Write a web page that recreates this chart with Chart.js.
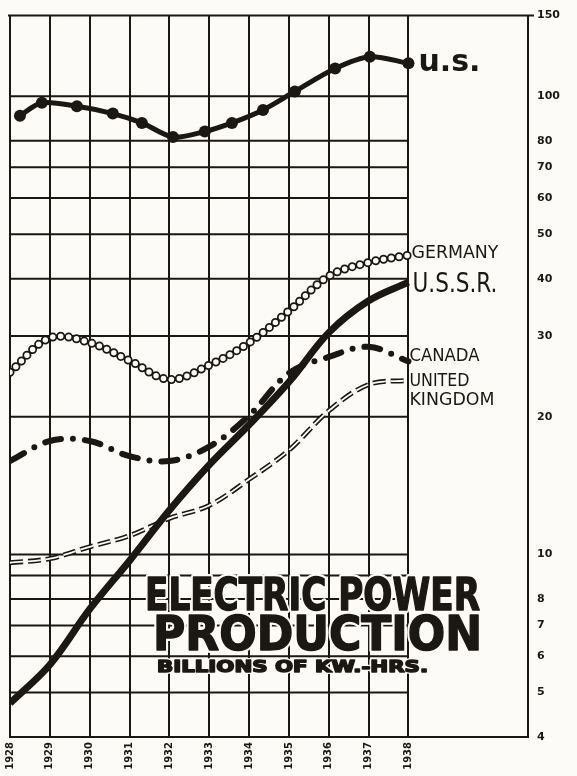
<!DOCTYPE html>
<html>
<head>
<meta charset="utf-8">
<title>Electric Power Production</title>
<script src="https://cdn.jsdelivr.net/npm/chart.js@4.4.1/dist/chart.umd.min.js"></script>
<style>
  html, body { margin: 0; padding: 0; background: #fcfbf7; }
  #wrap { width: 577px; height: 776px; position: relative; }
</style>
</head>
<body>
<div id="wrap"><canvas id="chart"></canvas></div>
<script>
(() => {
  "use strict";

  // x axis: one grid line per year
  const years = [1928, 1929, 1930, 1931, 1932, 1933, 1934, 1935, 1936, 1937, 1938];

  // U.S. is drawn with dots that don't sit on the year lines, so keep their own x
  const usYears  = [1928.25, 1928.8, 1929.68, 1930.58, 1931.31, 1932.09, 1932.89, 1933.57, 1934.35, 1935.15, 1936.16, 1937.03, 1938];
  const usValues = [90.7, 96.8, 95.1, 91.7, 87.5, 81.5, 83.8, 87.5, 93.4, 102.5, 115, 122, 118];

  // billions of kw-hrs, one value per year
  const germany = [25.0, 29.7, 29.0, 26.5, 24.1, 25.9, 29.0, 34.0, 40.5, 43.4, 45.0];
  const ussr    = [4.74, 5.75, 7.6, 9.7, 12.5, 15.7, 19.2, 23.8, 30.5, 35.8, 39.3];
  const canada  = [16.0, 17.7, 17.7, 16.4, 16.0, 17.2, 20.1, 24.9, 27.0, 28.4, 26.4];
  const uk      = [9.6, 9.8, 10.4, 11.0, 12.0, 12.8, 14.6, 16.9, 20.6, 23.5, 24.0];

  // log axis: grid lines and the labels printed on the right
  const gridValues = [4, 5, 6, 7, 8, 9, 10, 20, 30, 40, 50, 60, 70, 80, 100, 150];
  const tickLabels = [4, 5, 6, 7, 8, 10, 20, 30, 40, 50, 60, 70, 80, 100, 150];

  const paper = "#fcfbf7";
  const ink   = "#1b1813";

  const xy = (xs, ys) => xs.map((x, i) => ({ x, y: ys[i] }));

  function fitText(ctx, text, x, y, font, width, halo) {
    ctx.save();
    ctx.font = font;
    const w = ctx.measureText(text).width;
    ctx.translate(x, y);
    ctx.scale(width / w, 1);
    if (halo) {
      ctx.lineJoin = "round";
      ctx.strokeStyle = paper;
      ctx.lineWidth = halo;
      ctx.strokeText(text, 0, 0);
    }
    ctx.fillStyle = ink;
    ctx.fillText(text, 0, 0);
    if (halo) {
      ctx.strokeStyle = ink;
      ctx.lineWidth = 1.5;
      ctx.strokeText(text, 0, 0);
    }
    ctx.restore();
  }

  // background
  const paperPlugin = {
    id: "paper",
    beforeDraw(chart) {
      const { ctx, width, height } = chart;
      ctx.save();
      ctx.fillStyle = paper;
      ctx.fillRect(0, 0, width, height);
      ctx.restore();
    }
  };

  // horizontal grid only over the years, plus the top of the frame
  const gridPlugin = {
    id: "hgrid",
    beforeDatasetsDraw(chart) {
      const { ctx, chartArea, scales: { x, y } } = chart;
      const x0 = x.getPixelForValue(years[0]);
      const x1 = x.getPixelForValue(years[years.length - 1]);
      ctx.save();
      ctx.strokeStyle = ink;
      ctx.lineWidth = 2;
      ctx.beginPath();
      gridValues.forEach((v) => {
        const py = y.getPixelForValue(v);
        ctx.moveTo(x0, py);
        ctx.lineTo(x1, py);
      });
      ctx.moveTo(chartArea.left - 2, chartArea.top);
      ctx.lineTo(chartArea.right + 6, chartArea.top);
      ctx.stroke();
      ctx.restore();
    }
  };

  // series names at the line ends + the big title
  const seriesNames = [
    { ds: 0, lines: ["u.s."], font: 'bold 30px "DejaVu Sans"', widths: [62], dx: 10, dy: 0 },
    { ds: 1, lines: ["GERMANY"], font: '17px "DejaVu Sans"', widths: [87], dx: 3, dy: -2 },
    { ds: 3, lines: ["U.S.S.R."], font: '26px "DejaVu Sans"', widths: [85], dx: 4, dy: 3 },
    { ds: 4, lines: ["CANADA"], font: '17px "DejaVu Sans"', widths: [70], dx: 1, dy: -5 },
    { ds: 6, lines: ["UNITED", "KINGDOM"], font: '17px "DejaVu Sans"', widths: [60, 85], dx: 1, dy: 1 }
  ];

  const labelPlugin = {
    id: "labels",
    afterDatasetsDraw(chart) {
      const { ctx, scales: { x, y } } = chart;
      ctx.save();
      ctx.textBaseline = "middle";
      seriesNames.forEach((s) => {
        const data = chart.data.datasets[s.ds].data;
        const last = data[data.length - 1];
        const px = x.getPixelForValue(last.x) + s.dx;
        const py = y.getPixelForValue(last.y) + s.dy;
        s.lines.forEach((t, i) => fitText(ctx, t, px, py + i * 19, s.font, s.widths[i]));
      });

      ctx.textBaseline = "alphabetic";
      fitText(ctx, "ELECTRIC POWER", 145, 610, 'bold 45px "DejaVu Sans"', 335, 6);
      fitText(ctx, "PRODUCTION", 153, 650, 'bold 48px "DejaVu Sans"', 329, 6);
      fitText(ctx, "BILLIONS OF KW.-HRS.", 157, 672, 'bold 16px "DejaVu Sans"', 271, 4);
      ctx.restore();
    }
  };

  const ctx = document.getElementById("chart").getContext("2d");

  new Chart(ctx, {
    type: "line",
    data: {
      datasets: [
        {
          label: "U.S.",
          data: xy(usYears, usValues),
          borderColor: ink,
          borderWidth: 5,
          pointRadius: 6,
          pointBackgroundColor: ink,
          pointBorderWidth: 0,
          tension: 0.3,
          order: 0
        },
        {
          label: "Germany",
          data: xy(years, germany),
          borderColor: ink,
          borderWidth: 9,
          borderDash: [0, 8],
          borderCapStyle: "round",
          pointRadius: 0,
          tension: 0.35,
          order: 2
        },
        {
          label: "Germany (inside)",
          data: xy(years, germany),
          borderColor: paper,
          borderWidth: 5.5,
          borderDash: [0, 8],
          borderCapStyle: "round",
          pointRadius: 0,
          tension: 0.35,
          order: 1
        },
        {
          label: "U.S.S.R.",
          data: xy(years, ussr),
          borderColor: ink,
          borderWidth: 7,
          pointRadius: 0,
          tension: 0.35,
          order: 0
        },
        {
          label: "Canada",
          data: xy(years, canada),
          borderColor: ink,
          borderWidth: 6,
          borderDash: [16, 12, 0, 12],
          borderCapStyle: "round",
          pointRadius: 0,
          tension: 0.35,
          order: 0
        },
        {
          label: "United Kingdom",
          data: xy(years, uk),
          borderColor: ink,
          borderWidth: 5,
          borderDash: [13, 5],
          pointRadius: 0,
          tension: 0.35,
          order: 2
        },
        {
          label: "United Kingdom (inside)",
          data: xy(years, uk),
          borderColor: paper,
          borderWidth: 1.8,
          borderDash: [13, 5],
          pointRadius: 0,
          tension: 0.35,
          order: 1
        }
      ]
    },
    options: {
      responsive: true,
      maintainAspectRatio: false,
      animation: false,
      layout: { padding: { left: 10, top: 12, right: 0, bottom: 0 } },
      plugins: {
        legend: { display: false },
        tooltip: { enabled: false }
      },
      scales: {
        x: {
          type: "linear",
          position: "bottom",
          min: 1928,
          max: 1941,
          afterBuildTicks: (s) => { s.ticks = years.map((v) => ({ value: v })); },
          afterFit: (s) => { s.height = 39; },
          grid: { color: ink, lineWidth: 2, drawTicks: false },
          border: { display: true, color: ink, width: 2 },
          ticks: {
            color: ink,
            font: { family: "DejaVu Sans", size: 10, weight: "bold" },
            minRotation: 90,
            maxRotation: 90,
            autoSkip: false,
            padding: 5,
            callback: (v) => String(v)
          }
        },
        y: {
          type: "logarithmic",
          position: "right",
          min: 4,
          max: 150,
          afterBuildTicks: (s) => { s.ticks = gridValues.map((v) => ({ value: v })); },
          afterFit: (s) => { s.width = 49; },
          grid: { drawOnChartArea: false, drawTicks: false },
          border: { display: true, color: ink, width: 2 },
          ticks: {
            color: ink,
            font: { family: "DejaVu Sans", size: 11, weight: "bold" },
            padding: 9,
            autoSkip: false,
            callback: (v) => (tickLabels.includes(v) ? String(v) : "")
          }
        }
      }
    },
    plugins: [paperPlugin, gridPlugin, labelPlugin]
  });
})();
</script>
</body>
</html>
